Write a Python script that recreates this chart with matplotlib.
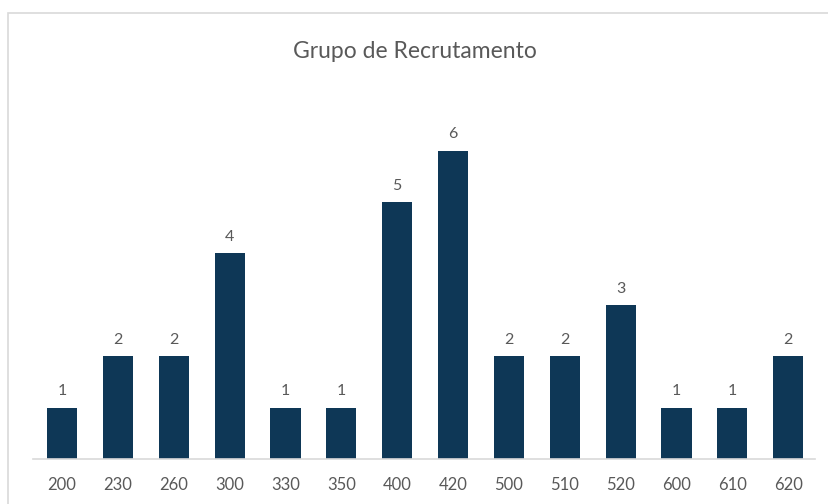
import matplotlib.pyplot as plt
from matplotlib.patches import Rectangle

categories = ['200', '230', '260', '300', '330', '350', '400', '420',
              '500', '510', '520', '600', '610', '620']
counts = [1, 2, 2, 4, 1, 1, 5, 6, 2, 2, 3, 1, 1, 2]

bar_color = '#0E3756'
text_color = '#595959'

plt.rcParams['font.family'] = ['Lato', 'DejaVu Sans']

fig = plt.figure(figsize=(8.29, 5.04), dpi=100)
ax = fig.add_axes([0.0398, 0.0893, 0.9433, 0.714])

x = range(len(categories))
bars = ax.bar(x, counts, width=0.54, color=bar_color)
for b, v in zip(bars, counts):
    ax.text(b.get_x() + b.get_width() / 2, v + 0.18, str(v),
            ha='center', va='bottom', fontsize=11.5, color=text_color)

ax.set_xlim(-0.52, len(categories) - 0.52)
ax.set_ylim(0, 7)
ax.set_xticks(list(x))
ax.set_xticklabels(categories, fontsize=12, color=text_color)
ax.tick_params(axis='x', length=0, pad=13)
ax.set_yticks([])
for s in ['top', 'right', 'left']:
    ax.spines[s].set_visible(False)
ax.spines['bottom'].set_color('#D9D9D9')
ax.spines['bottom'].set_linewidth(1.2)

fig.text(0.5, 0.897, 'Grupo de Recrutamento', ha='center', va='center',
         fontsize=16.5, color=text_color)

# chart frame
fig.patches.append(Rectangle((8 / 829, -0.05), 1.2, 1 - 13 / 504 + 0.05,
                             transform=fig.transFigure, fill=False,
                             edgecolor='#D9D9D9', linewidth=1.2))

fig.savefig('out.png', dpi=100)
